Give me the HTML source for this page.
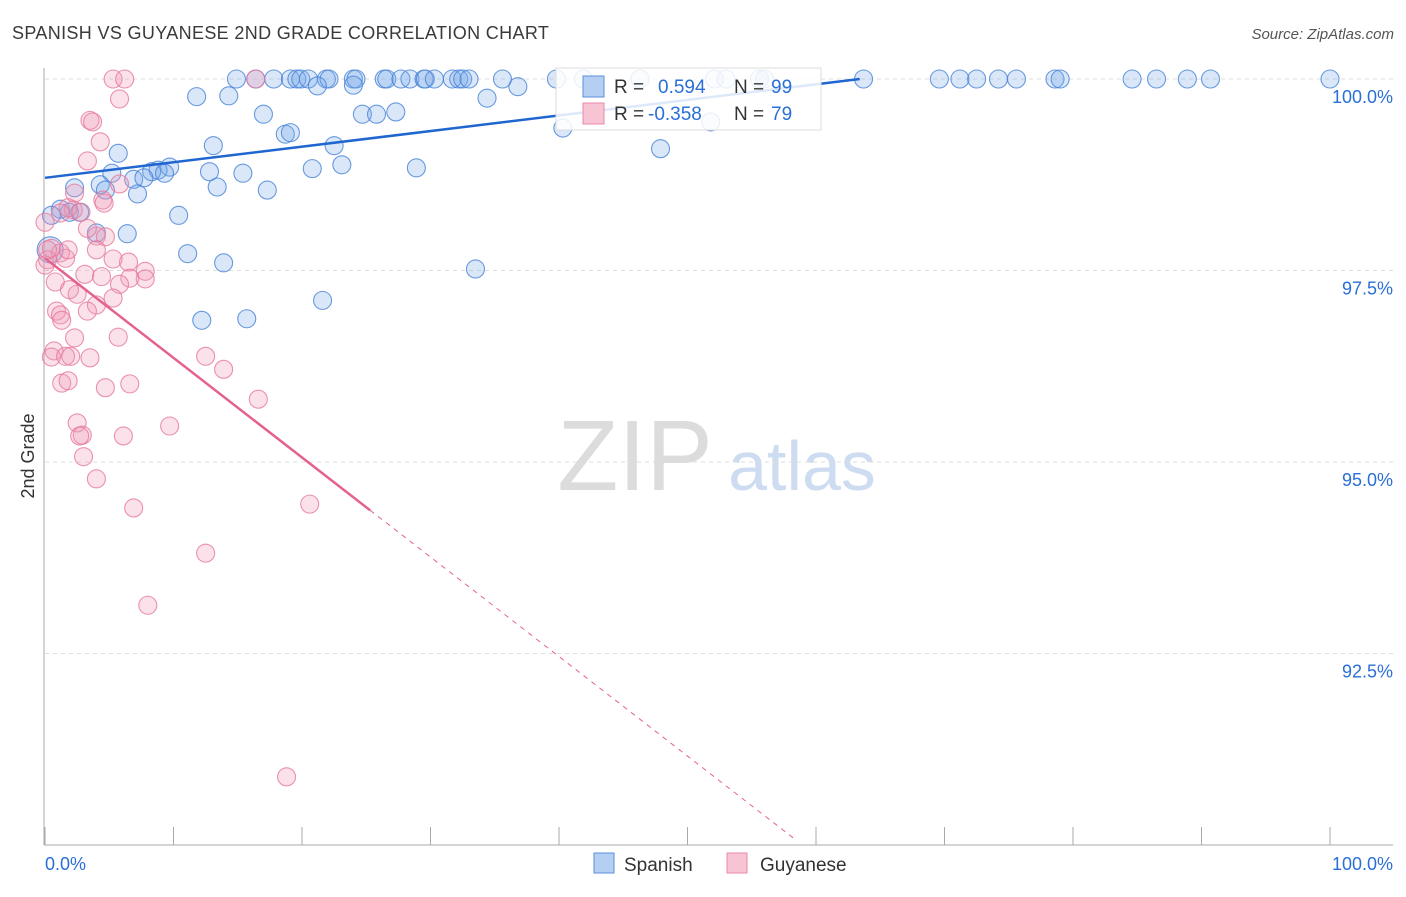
<!DOCTYPE html>
<html><head><meta charset="utf-8"><style>
body{margin:0;background:#fff;font-family:"Liberation Sans",sans-serif;}
svg text{font-family:"Liberation Sans",sans-serif;}
</style></head><body>
<svg id="chart" width="1406" height="892" viewBox="0 0 1406 892">
<text x="12" y="39" font-size="18" fill="#3a3a3a" letter-spacing="0.35">SPANISH VS GUYANESE 2ND GRADE CORRELATION CHART</text>
<text x="1394" y="39" font-size="15" fill="#555" text-anchor="end" font-style="italic">Source: ZipAtlas.com</text>
<text transform="translate(34,456) rotate(-90)" font-size="18" fill="#333" text-anchor="middle">2nd Grade</text>
<g>
<text x="635" y="490" font-size="100" fill="#dcdcdc" font-family="Liberation Serif" text-anchor="middle">ZIP</text>
<text x="802" y="490" font-size="70" fill="#cddcf0" text-anchor="middle">atlas</text></g>
<g id="grid"></g><g id="axes"></g><g id="pts"></g><g id="trend"></g>
<g>
<rect x="556" y="68" width="265" height="62" fill="#fff" fill-opacity="0.85" stroke="#ddd"/>
<rect x="583" y="76" width="21" height="21" fill="#b5cff3" stroke="#5b8fd8"/>
<text x="614" y="93" font-size="19" fill="#333">R = </text><text x="658" y="93" font-size="19" fill="#2a6fd6">0.594</text>
<text x="734" y="93" font-size="19" fill="#333">N = </text><text x="771" y="93" font-size="19" fill="#2a6fd6">99</text>
<rect x="583" y="103" width="21" height="21" fill="#f7c4d4" stroke="#e88aa8"/>
<text x="614" y="120" font-size="19" fill="#333">R = </text><text x="648" y="120" font-size="19" fill="#2a6fd6">-0.358</text>
<text x="734" y="120" font-size="19" fill="#333">N = </text><text x="771" y="120" font-size="19" fill="#2a6fd6">79</text>
</g>
<g>
<rect x="594" y="853" width="20" height="20" fill="#b5cff3" stroke="#5b8fd8"/>
<text x="624" y="871" font-size="19" fill="#333">Spanish</text>
<rect x="727" y="853" width="20" height="20" fill="#f7c4d4" stroke="#e88aa8"/>
<text x="760" y="871" font-size="19" fill="#333">Guyanese</text>
</g>
</svg>
<script>
const yTicks=[100,97.5,95,92.5];
const yTickLabels=["100.0%","97.5%","95.0%","92.5%"];
const xTicks=[0,10,20,30,40,50,60,70,80,90,100];
const blueX=[14.9,16.4,17.8,19.1,19.6,19.9,20.5,21.9,22.1,24.0,24.2,26.4,26.6,27.7,28.4,29.5,29.6,30.3,31.7,32.2,32.5,33.0,35.6,39.8,41.9,46.3,52.1,53.0,55.6,56.0,63.7,69.6,71.2,72.5,74.2,75.6,78.6,79.0,84.6,86.5,88.9,90.7,100,
11.8,14.3,21.2,24.0,34.4,36.8,17.0,24.7,25.8,27.3,18.7,19.1,40.3,51.8,22.5,13.1,47.9,5.7,15.4,23.1,28.9,20.8,9.7,8.8,8.3,9.3,12.8,6.9,5.2,7.7,4.3,2.3,4.7,7.2,13.4,17.3,1.2,1.9,2.7,0.5,10.4,4.0,6.4,11.1,13.9,33.5,21.6,12.2,15.7,0.4];
const blueY=[100,100,100,100,100,100,100,100,100,100,100,100,100,100,100,100,100,100,100,100,100,100,100,100,100,100,100,100,100,100,100,100,100,100,100,100,100,100,100,100,100,100,100,
99.77,99.78,99.91,99.92,99.75,99.90,99.54,99.54,99.54,99.57,99.28,99.30,99.36,99.44,99.13,99.13,99.09,99.03,98.77,98.88,98.84,98.83,98.85,98.81,98.79,98.77,98.79,98.69,98.77,98.71,98.62,98.58,98.55,98.50,98.59,98.55,98.30,98.26,98.26,98.22,98.22,97.99,97.98,97.72,97.60,97.52,97.11,96.85,96.87,97.77];
const pinkX=[5.3,6.2,5.8,3.5,3.7,4.3,3.3,5.8,4.5,4.6,2.3,2.2,2.8,1.8,1.2,0.0,4.0,4.7,3.3,0.5,1.2,1.6,0.2,0.0,1.8,3.1,4.0,5.3,6.5,7.8,7.8,6.6,5.8,5.3,4.0,2.5,0.8,1.9,4.4,0.9,1.2,1.3,3.3,2.3,5.7,0.7,0.5,3.5,1.6,2.0,12.5,13.9,16.6,1.3,1.8,4.7,6.6,2.5,2.9,2.7,6.1,9.7,3.0,4.0,6.9,20.6,12.5,8.0,18.8,0.2,16.4];
const pinkY=[100,100,99.74,99.46,99.44,99.18,98.93,98.63,98.42,98.38,98.51,98.29,98.26,98.32,98.25,98.13,97.95,97.94,98.05,97.79,97.73,97.66,97.64,97.57,97.77,97.45,97.77,97.65,97.61,97.49,97.39,97.40,97.32,97.14,97.05,97.19,97.35,97.25,97.42,96.97,96.92,96.85,96.97,96.62,96.63,96.45,96.37,96.36,96.38,96.38,96.38,96.21,95.82,96.03,96.06,95.97,96.02,95.51,95.35,95.34,95.34,95.47,95.07,94.78,94.40,94.45,93.81,93.13,90.89,97.77,100];
const blueTrend=[[0,98.71],[63.4,100]];
const pinkTrendSolid=[[0,97.66],[25.3,94.37]];
const pinkTrendDash=[[25.3,94.37],[58.4,90.07]];

const NS="http://www.w3.org/2000/svg";
const X=v=>45+v*12.85, Y=v=>79+(100-v)*76.6;
function mk(tag,attrs,parent){const e=document.createElementNS(NS,tag);for(const k in attrs)e.setAttribute(k,attrs[k]);document.getElementById(parent).appendChild(e);return e;}
yTicks.forEach((t,i)=>{
  const l=mk('line',{x1:45,x2:1393,y1:Y(t),y2:Y(t),stroke:'#ddd','stroke-dasharray':'4,4'},'grid');
  
  
  const tx=mk('text',{x:1393,y:Y(t)+24,'font-size':18,fill:'#2a6fd6','text-anchor':'end'},'grid');
  tx.textContent=yTickLabels[i];
  
  
});
const ax=mk('line',{x1:44,x2:44,y1:68,y2:845,stroke:'#aaa'},'axes');


const bx=mk('line',{x1:44,x2:1393,y1:845,y2:845,stroke:'#aaa'},'axes');


xTicks.forEach(t=>{
  const l=mk('line',{x1:X(t),x2:X(t),y1:827,y2:845,stroke:'#aaa'},'axes');
  
  
});
const xl0=mk('text',{x:45,y:870,'font-size':18,fill:'#2a6fd6'},'axes');xl0.textContent='0.0%';


const xl1=mk('text',{x:1393,y:870,'font-size':18,fill:'#2a6fd6','text-anchor':'end'},'axes');xl1.textContent='100.0%';


blueX.forEach((v,i)=>{
  const r=(i===blueX.length-1)?13:9;
  const c=mk('circle',{cx:X(v),cy:Y(blueY[i]),r:r,fill:'rgba(120,168,232,0.28)',stroke:'rgba(70,130,215,0.8)','stroke-width':1.1},'pts');
  
  
});
pinkX.forEach((v,i)=>{
  const c=mk('circle',{cx:X(v),cy:Y(pinkY[i]),r:9,fill:'rgba(242,150,180,0.28)',stroke:'rgba(230,120,155,0.8)','stroke-width':1.1},'pts');
  
  
});
const bt=mk('line',{x1:X(blueTrend[0][0]),y1:Y(blueTrend[0][1]),x2:X(blueTrend[1][0]),y2:Y(blueTrend[1][1]),stroke:'#1f66d0','stroke-width':2.5},'trend');


const pt=mk('line',{x1:X(pinkTrendSolid[0][0]),y1:Y(pinkTrendSolid[0][1]),x2:X(pinkTrendSolid[1][0]),y2:Y(pinkTrendSolid[1][1]),stroke:'#e5628e','stroke-width':2.5},'trend');


const pd=mk('line',{x1:X(pinkTrendDash[0][0]),y1:Y(pinkTrendDash[0][1]),x2:X(pinkTrendDash[1][0]),y2:Y(pinkTrendDash[1][1]),stroke:'#e5628e','stroke-width':1,'stroke-dasharray':'5,5'},'trend');


</script>
</body></html>
